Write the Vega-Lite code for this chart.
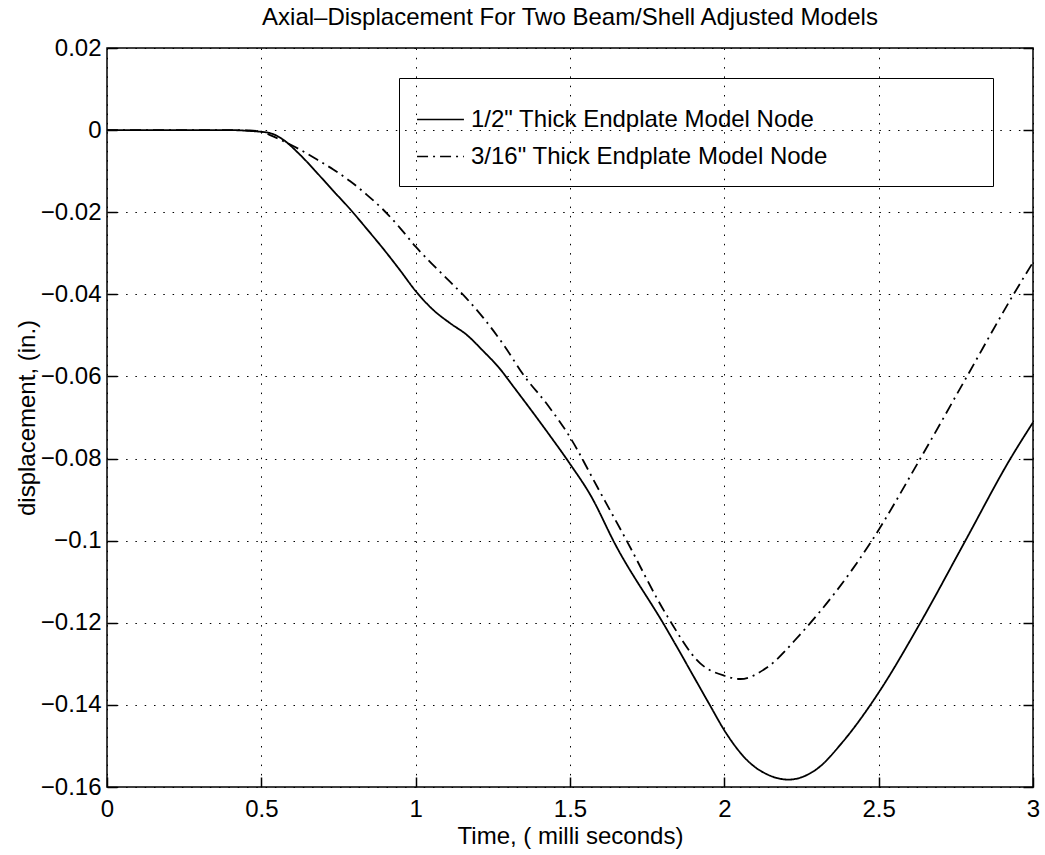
{
  "$schema": "https://vega.github.io/schema/vega-lite/v6.json",
  "width": 926,
  "height": 739,
  "autosize": {"type": "none"},
  "padding": {"left": 107, "top": 48, "right": 12, "bottom": 68},
  "background": "white",
  "config": {
    "font": "Liberation Sans",
    "view": {"stroke": "black", "strokeWidth": 1.5},
    "axis": {
      "labelFont": "Liberation Sans",
      "titleFont": "Liberation Sans",
      "labelFontSize": 24,
      "titleFontSize": 24,
      "labelColor": "black",
      "titleColor": "black",
      "titleFontWeight": "normal",
      "domain": false,
      "tickColor": "black",
      "tickSize": -10,
      "tickWidth": 1.5,
      "gridColor": "black",
      "gridOpacity": 1,
      "gridDash": [1.5, 7.8],
      "gridWidth": 1,
      "labelFlush": false,
      "labelOverlap": false
    },
    "title": {"font": "Liberation Sans", "fontSize": 24, "fontWeight": "normal", "color": "black"}
  },
  "title": {
    "text": "Axial–Displacement For Two Beam/Shell Adjusted Models",
    "anchor": "middle",
    "frame": "group",
    "offset": 6
  },
  "datasets": {
    "curves": [
      {"t": 0, "d": 0, "model": "1/2\" Thick Endplate Model Node"},
      {"t": 0.1, "d": 0, "model": "1/2\" Thick Endplate Model Node"},
      {"t": 0.2, "d": 0, "model": "1/2\" Thick Endplate Model Node"},
      {"t": 0.3, "d": 0, "model": "1/2\" Thick Endplate Model Node"},
      {"t": 0.4, "d": 0, "model": "1/2\" Thick Endplate Model Node"},
      {"t": 0.462, "d": -0.0002, "model": "1/2\" Thick Endplate Model Node"},
      {"t": 0.527, "d": -0.0007, "model": "1/2\" Thick Endplate Model Node"},
      {"t": 0.57, "d": -0.0023, "model": "1/2\" Thick Endplate Model Node"},
      {"t": 0.624, "d": -0.0059, "model": "1/2\" Thick Endplate Model Node"},
      {"t": 0.679, "d": -0.0103, "model": "1/2\" Thick Endplate Model Node"},
      {"t": 0.733, "d": -0.0148, "model": "1/2\" Thick Endplate Model Node"},
      {"t": 0.787, "d": -0.0192, "model": "1/2\" Thick Endplate Model Node"},
      {"t": 0.841, "d": -0.024, "model": "1/2\" Thick Endplate Model Node"},
      {"t": 0.895, "d": -0.0289, "model": "1/2\" Thick Endplate Model Node"},
      {"t": 0.949, "d": -0.0341, "model": "1/2\" Thick Endplate Model Node"},
      {"t": 1.0, "d": -0.0392, "model": "1/2\" Thick Endplate Model Node"},
      {"t": 1.057, "d": -0.0438, "model": "1/2\" Thick Endplate Model Node"},
      {"t": 1.111, "d": -0.047, "model": "1/2\" Thick Endplate Model Node"},
      {"t": 1.166, "d": -0.0499, "model": "1/2\" Thick Endplate Model Node"},
      {"t": 1.22, "d": -0.0539, "model": "1/2\" Thick Endplate Model Node"},
      {"t": 1.268, "d": -0.0577, "model": "1/2\" Thick Endplate Model Node"},
      {"t": 1.319, "d": -0.0627, "model": "1/2\" Thick Endplate Model Node"},
      {"t": 1.427, "d": -0.0736, "model": "1/2\" Thick Endplate Model Node"},
      {"t": 1.5, "d": -0.0813, "model": "1/2\" Thick Endplate Model Node"},
      {"t": 1.567, "d": -0.089, "model": "1/2\" Thick Endplate Model Node"},
      {"t": 1.648, "d": -0.1011, "model": "1/2\" Thick Endplate Model Node"},
      {"t": 1.805, "d": -0.1205, "model": "1/2\" Thick Endplate Model Node"},
      {"t": 1.955, "d": -0.1403, "model": "1/2\" Thick Endplate Model Node"},
      {"t": 2.0, "d": -0.1462, "model": "1/2\" Thick Endplate Model Node"},
      {"t": 2.084, "d": -0.1542, "model": "1/2\" Thick Endplate Model Node"},
      {"t": 2.138, "d": -0.1569, "model": "1/2\" Thick Endplate Model Node"},
      {"t": 2.208, "d": -0.1582, "model": "1/2\" Thick Endplate Model Node"},
      {"t": 2.3, "d": -0.1556, "model": "1/2\" Thick Endplate Model Node"},
      {"t": 2.387, "d": -0.1487, "model": "1/2\" Thick Endplate Model Node"},
      {"t": 2.5, "d": -0.137, "model": "1/2\" Thick Endplate Model Node"},
      {"t": 2.635, "d": -0.12, "model": "1/2\" Thick Endplate Model Node"},
      {"t": 2.781, "d": -0.1, "model": "1/2\" Thick Endplate Model Node"},
      {"t": 2.927, "d": -0.08, "model": "1/2\" Thick Endplate Model Node"},
      {"t": 3.0, "d": -0.0712, "model": "1/2\" Thick Endplate Model Node"},
      {"t": 0, "d": 0, "model": "3/16\" Thick Endplate Model Node"},
      {"t": 0.1, "d": 0, "model": "3/16\" Thick Endplate Model Node"},
      {"t": 0.2, "d": 0, "model": "3/16\" Thick Endplate Model Node"},
      {"t": 0.3, "d": 0, "model": "3/16\" Thick Endplate Model Node"},
      {"t": 0.4, "d": 0, "model": "3/16\" Thick Endplate Model Node"},
      {"t": 0.462, "d": -0.0001, "model": "3/16\" Thick Endplate Model Node"},
      {"t": 0.5, "d": -0.0004, "model": "3/16\" Thick Endplate Model Node"},
      {"t": 0.549, "d": -0.0019, "model": "3/16\" Thick Endplate Model Node"},
      {"t": 0.624, "d": -0.0047, "model": "3/16\" Thick Endplate Model Node"},
      {"t": 0.679, "d": -0.0071, "model": "3/16\" Thick Endplate Model Node"},
      {"t": 0.733, "d": -0.0096, "model": "3/16\" Thick Endplate Model Node"},
      {"t": 0.787, "d": -0.0124, "model": "3/16\" Thick Endplate Model Node"},
      {"t": 0.841, "d": -0.0157, "model": "3/16\" Thick Endplate Model Node"},
      {"t": 0.895, "d": -0.0194, "model": "3/16\" Thick Endplate Model Node"},
      {"t": 0.949, "d": -0.0238, "model": "3/16\" Thick Endplate Model Node"},
      {"t": 1.0, "d": -0.0284, "model": "3/16\" Thick Endplate Model Node"},
      {"t": 1.057, "d": -0.0329, "model": "3/16\" Thick Endplate Model Node"},
      {"t": 1.111, "d": -0.0369, "model": "3/16\" Thick Endplate Model Node"},
      {"t": 1.166, "d": -0.0411, "model": "3/16\" Thick Endplate Model Node"},
      {"t": 1.22, "d": -0.0458, "model": "3/16\" Thick Endplate Model Node"},
      {"t": 1.285, "d": -0.0523, "model": "3/16\" Thick Endplate Model Node"},
      {"t": 1.351, "d": -0.0598, "model": "3/16\" Thick Endplate Model Node"},
      {"t": 1.427, "d": -0.0669, "model": "3/16\" Thick Endplate Model Node"},
      {"t": 1.5, "d": -0.0748, "model": "3/16\" Thick Endplate Model Node"},
      {"t": 1.589, "d": -0.087, "model": "3/16\" Thick Endplate Model Node"},
      {"t": 1.68, "d": -0.0995, "model": "3/16\" Thick Endplate Model Node"},
      {"t": 1.816, "d": -0.1185, "model": "3/16\" Thick Endplate Model Node"},
      {"t": 1.922, "d": -0.1299, "model": "3/16\" Thick Endplate Model Node"},
      {"t": 2.0, "d": -0.1329, "model": "3/16\" Thick Endplate Model Node"},
      {"t": 2.052, "d": -0.1337, "model": "3/16\" Thick Endplate Model Node"},
      {"t": 2.138, "d": -0.1309, "model": "3/16\" Thick Endplate Model Node"},
      {"t": 2.246, "d": -0.1228, "model": "3/16\" Thick Endplate Model Node"},
      {"t": 2.478, "d": -0.1, "model": "3/16\" Thick Endplate Model Node"},
      {"t": 2.635, "d": -0.08, "model": "3/16\" Thick Endplate Model Node"},
      {"t": 2.786, "d": -0.06, "model": "3/16\" Thick Endplate Model Node"},
      {"t": 2.937, "d": -0.04, "model": "3/16\" Thick Endplate Model Node"},
      {"t": 3.0, "d": -0.0322, "model": "3/16\" Thick Endplate Model Node"}
    ]
  },
  "data": {"name": "curves"},
  "layer": [
    {
      "mark": {"type": "line", "color": "black", "strokeWidth": 1.8, "interpolate": "monotone"},
      "encoding": {
        "x": {
          "field": "t", "type": "quantitative",
          "scale": {"domain": [0, 3], "nice": false, "zero": false},
          "axis": {"orient": "bottom", "values": [0, 0.5, 1, 1.5, 2, 2.5, 3], "format": "~g", "title": "Time, ( milli seconds)", "grid": true, "labelPadding": 20, "titlePadding": 3}
        },
        "y": {
          "field": "d", "type": "quantitative",
          "scale": {"domain": [-0.16, 0.02], "nice": false, "zero": false},
          "axis": {"orient": "left", "values": [0.02, 0, -0.02, -0.04, -0.06, -0.08, -0.1, -0.12, -0.14, -0.16], "format": "~g", "title": "displacement, (in.)", "grid": true, "labelPadding": 16, "titlePadding": 1}
        },
        "strokeDash": {
          "field": "model", "type": "nominal",
          "scale": {"domain": ["1/2\" Thick Endplate Model Node", "3/16\" Thick Endplate Model Node"], "range": [[1, 0], [11, 5, 2, 5]]},
          "legend": {
            "orient": "none", "legendX": 292, "legendY": 30,
            "title": " ", "titleOrient": "right", "titlePadding": 148,
            "strokeColor": "black", "padding": 17,
            "symbolType": "stroke", "symbolSize": 2200, "symbolStrokeWidth": 1.5, "symbolStrokeColor": "black",
            "labelFontSize": 24, "labelFont": "Liberation Sans", "labelColor": "black", "labelOffset": 6, "labelLimit": 0,
            "rowPadding": -3
          }
        }
      }
    },
    {
      "mark": {"type": "line", "opacity": 0},
      "encoding": {
        "x": {
          "field": "t", "type": "quantitative",
          "axis": null
        },
        "y": {
          "field": "d", "type": "quantitative",
          "axis": {"orient": "right", "values": [0.02, 0, -0.02, -0.04, -0.06, -0.08, -0.1, -0.12, -0.14, -0.16], "labels": false, "title": null, "grid": false}
        },
        "detail": {"field": "model", "type": "nominal"}
      }
    }
  ],
  "resolve": {"axis": {"x": "independent", "y": "independent"}}
}
